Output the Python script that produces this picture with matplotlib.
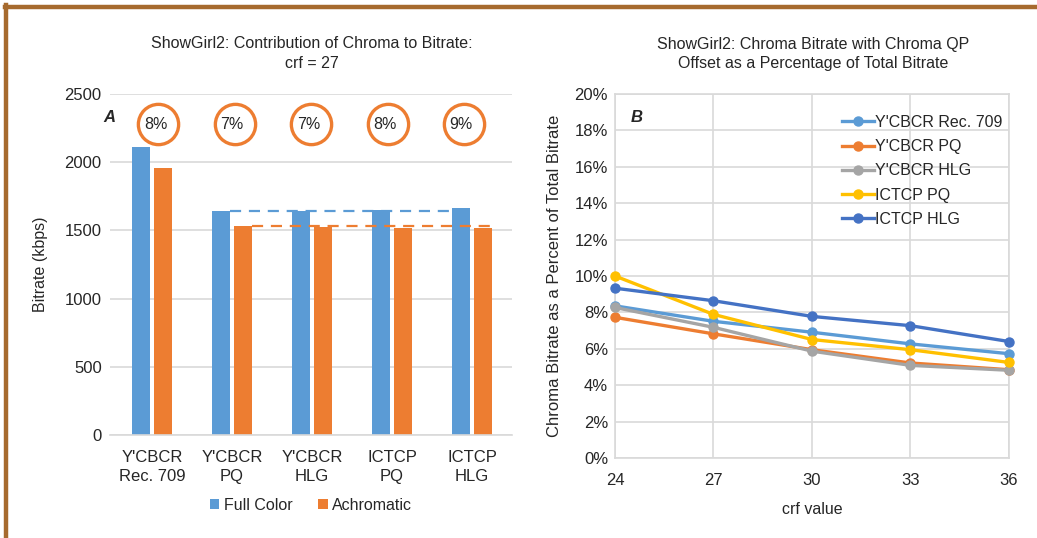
import matplotlib
matplotlib.use("Agg")
import matplotlib.pyplot as plt
from matplotlib.lines import Line2D
import numpy as np

plt.rcParams['font.family'] = ['Liberation Sans', 'DejaVu Sans']

# ---- data: panel A ----
categories = ["Y'CBCR\nRec. 709", "Y'CBCR\nPQ", "Y'CBCR\nHLG", "ICTCP\nPQ", "ICTCP\nHLG"]
full_color = [2115, 1644, 1642, 1650, 1662]
achromatic = [1955, 1532, 1527, 1521, 1515]
chroma_pct_labels = ["8%", "7%", "7%", "8%", "9%"]

# ---- data: panel B ----
crf = [24, 27, 30, 33, 36]
series_names = ["Y'CBCR Rec. 709", "Y'CBCR PQ", "Y'CBCR HLG", "ICTCP PQ", "ICTCP HLG"]
rec709 = [8.36, 7.51, 6.91, 6.27, 5.73]
ycbcr_pq = [7.73, 6.82, 5.95, 5.22, 4.85]
ycbcr_hlg = [8.27, 7.18, 5.87, 5.09, 4.82]
ictcp_pq = [10.0, 7.89, 6.51, 5.95, 5.25]
ictcp_hlg = [9.33, 8.64, 7.78, 7.27, 6.40]

BLUE = '#5B9BD5'
ORANGE = '#ED7D31'
GRAY = '#A5A5A5'
YELLOW = '#FFC000'
DBLUE = '#4472C4'
GRID = '#D9D9D9'
TXT = '#262626'

W, H = 1037, 538
fig = plt.figure(figsize=(W / 100, H / 100), dpi=100)

def fx(px):
    return px / W

def fy(py):
    return 1 - py / H

# ---------------- Panel A ----------------
axA = fig.add_axes([fx(110), fy(435), fx(512) - fx(110), fy(94) - fy(435)])
x = np.arange(len(categories))
bw = 0.225
off = 0.143
axA.bar(x - off, full_color, bw, color=BLUE, zorder=2, label='Full Color')
axA.bar(x + off, achromatic, bw, color=ORANGE, zorder=2, label='Achromatic')
axA.set_ylim(0, 2500)
axA.set_xlim(-0.525, 4.5)
axA.set_yticks(np.arange(0, 2501, 500))
axA.yaxis.grid(True, color=GRID, linewidth=1.2, zorder=0)
axA.set_axisbelow(True)
for s in axA.spines.values():
    s.set_visible(False)
axA.spines['bottom'].set_visible(True)
axA.spines['bottom'].set_color(GRID)
axA.spines['bottom'].set_linewidth(1.2)
axA.tick_params(axis='both', length=0, labelsize=12, colors=TXT)
axA.tick_params(axis='y', pad=6)
axA.tick_params(axis='x', pad=11)
axA.set_xticks(x)
axA.set_xticklabels(categories, fontsize=12, linespacing=1.35)
axA.set_ylabel('Bitrate (kbps)', fontsize=11.5, color=TXT, labelpad=12)

# dashed reference lines
axA.plot([1 - off + bw / 2, 4 - off - bw / 2], [full_color[1]] * 2, color=BLUE,
         linestyle=(0, (5, 3.5)), linewidth=1.6, zorder=3)
axA.plot([1 + off + bw / 2, 4 + off + bw / 2], [achromatic[1]] * 2, color=ORANGE,
         linestyle=(0, (5, 3.5)), linewidth=1.6, zorder=3)

# circles with percentages
circ_x = np.linspace(0.08, 3.9, len(categories))
circ_y = 2280
axA.scatter(circ_x, [circ_y] * len(circ_x), s=29 ** 2, facecolors='white',
            edgecolors=ORANGE, linewidths=2.4, zorder=4, clip_on=False)
for cx, lab in zip(circ_x, chroma_pct_labels):
    axA.text(cx - 0.035, circ_y, lab, ha='center', va='center', fontsize=11.5,
             color=TXT, zorder=5)
fig.text(fx(109), fy(117), 'A', fontsize=12, fontweight='bold', fontstyle='italic',
         ha='center', va='center', color=TXT)

fig.text(fx(312), fy(44), 'ShowGirl2: Contribution of Chroma to Bitrate:', ha='center',
         va='center', fontsize=11.5, color=TXT)
fig.text(fx(312), fy(64), 'crf = 27', ha='center', va='center', fontsize=11.5, color=TXT)

hA, lA = axA.get_legend_handles_labels()
fig.legend(hA, lA, loc='center', bbox_to_anchor=(fx(311), fy(505)), ncol=2,
           frameon=False, fontsize=11.5, handlelength=0.6, handleheight=0.6,
           handletextpad=0.3, columnspacing=1.6, labelcolor=TXT)

# ---------------- Panel B ----------------
axB = fig.add_axes([fx(615), fy(458), fx(1009) - fx(615), fy(94) - fy(458)])
series = [rec709, ycbcr_pq, ycbcr_hlg, ictcp_pq, ictcp_hlg]
colors = [BLUE, ORANGE, GRAY, YELLOW, DBLUE]
for vals, name, c in zip(series, series_names, colors):
    axB.plot(crf, vals, color=c, linewidth=2.4, marker='o', markersize=6.5,
             label=name, clip_on=False, zorder=3)
axB.set_xlim(24, 36)
axB.set_ylim(0, 20)
axB.set_xticks(crf)
axB.set_yticks(np.arange(0, 21, 2))
axB.set_yticklabels([f'{v}%' for v in range(0, 21, 2)])
axB.grid(True, color=GRID, linewidth=1.2, zorder=0)
axB.set_axisbelow(True)
for s in axB.spines.values():
    s.set_color(GRID)
    s.set_linewidth(1.2)
axB.tick_params(axis='both', length=0, labelsize=12, colors=TXT)
axB.tick_params(axis='y', pad=5)
axB.tick_params(axis='x', pad=11)
axB.set_ylabel('Chroma Bitrate as a Percent of Total Bitrate', fontsize=12,
               color=TXT, labelpad=9)
axB.set_xlabel('crf value', fontsize=11.5, color=TXT, labelpad=10)
axB.legend(loc='upper right', bbox_to_anchor=(1.0, 0.96), frameon=False,
           fontsize=11.5, handlelength=2.0, handletextpad=0.05, labelspacing=0.58,
           labelcolor=TXT, borderaxespad=0.0)
fig.text(fx(637), fy(117), 'B', fontsize=12, fontweight='bold', fontstyle='italic',
         ha='center', va='center', color=TXT)
fig.text(fx(813), fy(44), 'ShowGirl2: Chroma Bitrate with Chroma QP', ha='center',
         va='center', fontsize=11.5, color=TXT)
fig.text(fx(813), fy(64), 'Offset as a Percentage of Total Bitrate', ha='center',
         va='center', fontsize=11.5, color=TXT)

# ---------------- brown frame ----------------
BROWN = '#A66A2E'
fig.add_artist(Line2D([fx(6), fx(6)], [0, fy(5)], color=BROWN, linewidth=3.2))
fig.add_artist(Line2D([fx(4.5), 1], [fy(6.5), fy(6.5)], color=BROWN, linewidth=3.2))

fig.savefig('out.png', dpi=100, facecolor='white')
